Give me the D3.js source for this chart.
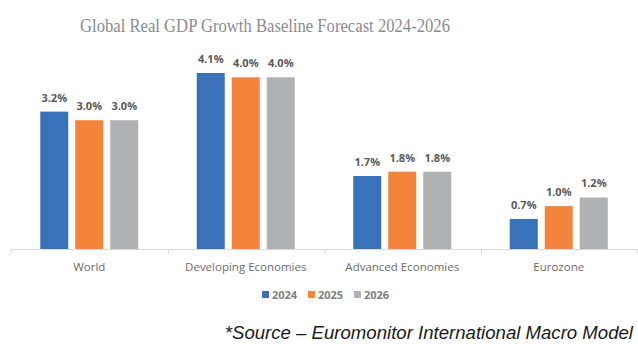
<!DOCTYPE html>
<html lang="en">
<head>
  <meta charset="UTF-8" />
  <title>Global Real GDP Growth Baseline Forecast 2024-2026</title>
  <script src="https://d3js.org/d3.v7.min.js"></script>
  <style>
    body { margin: 0; background: #fff; overflow: hidden; }
    .val { font-family: "Open Sans", Arial, sans-serif; font-size: 11px; font-weight: bold; fill: #595959; }
    .cat { font-family: "Open Sans", Arial, sans-serif; font-size: 11.5px; fill: #6b6b6b; }
  </style>
</head>
<body>
  <script>
    // Chart data
    const categories = ["World", "Developing Economies", "Advanced Economies", "Eurozone"];
    const years = ["2024", "2025", "2026"];
    const values2024 = [3.2, 4.1, 1.7, 0.7];
    const values2025 = [3.0, 4.0, 1.8, 1.0];
    const values2026 = [3.0, 4.0, 1.8, 1.2];
    const colors = ["#3A72BA", "#F4843C", "#B0B1B3"];

    const series = [values2024, values2025, values2026];
    const width = 638, height = 344;
    const plot = { left: 11, right: 637, top: 70, bottom: 249 };

    const svg = d3.select("body").append("svg")
      .attr("width", width)
      .attr("height", height);

    // Title (narrow serif face, so squeeze it to the measured width)
    svg.append("text")
      .attr("x", 80)
      .attr("y", 32)
      .attr("textLength", 370)
      .attr("lengthAdjust", "spacingAndGlyphs")
      .style("font-family", "'Liberation Serif', 'Times New Roman', serif")
      .style("font-size", "19.5px")
      .style("fill", "#8c8c8c")
      .text("Global Real GDP Growth Baseline Forecast 2024-2026");

    const x0 = d3.scaleBand()
      .domain(categories)
      .range([plot.left, plot.right]);

    const x1 = d3.scaleBand()
      .domain(years)
      .range([x0.bandwidth() / 2 - 49, x0.bandwidth() / 2 + 49])
      .paddingInner(0.2);

    // ~42.9 px per percentage point
    const y = d3.scaleLinear()
      .domain([0, 4.1])
      .range([plot.bottom, plot.bottom - 176]);

    // Bars
    const groups = svg.selectAll(".grp")
      .data(categories)
      .enter().append("g")
      .attr("transform", d => `translate(${x0(d)},0)`);

    groups.each(function(cat, i) {
      const g = d3.select(this);
      years.forEach((yr, j) => {
        const v = series[j][i];
        g.append("rect")
          .attr("x", x1(yr))
          .attr("y", y(v))
          .attr("width", x1.bandwidth())
          .attr("height", y(0) - y(v))
          .attr("fill", colors[j]);
        g.append("text")
          .attr("class", "val")
          .attr("x", x1(yr) + x1.bandwidth() / 2)
          .attr("y", y(v) - 10)
          .attr("text-anchor", "middle")
          .text(v.toFixed(1) + "%");
      });
    });

    // Category axis
    svg.append("line")
      .attr("x1", plot.left).attr("x2", plot.right)
      .attr("y1", plot.bottom + 0.5).attr("y2", plot.bottom + 0.5)
      .attr("stroke", "#d9d9d9").attr("stroke-width", 1);

    const bounds = categories.map(c => x0(c)).concat([plot.right]);
    svg.selectAll(".tick")
      .data(bounds)
      .enter().append("line")
      .attr("x1", d => Math.round(d) + 0.5).attr("x2", d => Math.round(d) + 0.5)
      .attr("y1", plot.bottom).attr("y2", plot.bottom + 5)
      .attr("stroke", "#d9d9d9");

    svg.selectAll(".cat")
      .data(categories)
      .enter().append("text")
      .attr("class", "cat")
      .attr("x", d => x0(d) + x0.bandwidth() / 2)
      .attr("y", 271)
      .attr("text-anchor", "middle")
      .text(d => d);

    // Legend
    const legendX = [262, 308, 354];
    years.forEach((yr, j) => {
      svg.append("rect")
        .attr("x", legendX[j]).attr("y", 291)
        .attr("width", 7).attr("height", 7)
        .attr("fill", colors[j]);
      svg.append("text")
        .attr("class", "val")
        .attr("x", legendX[j] + 10)
        .attr("y", 299)
        .style("fill", "#7f7f7f")
        .text(yr);
    });

    // Source note
    svg.append("text")
      .attr("x", 633)
      .attr("y", 339)
      .attr("text-anchor", "end")
      .style("font-family", "'Liberation Sans', Arial, sans-serif")
      .style("font-style", "italic")
      .style("font-size", "18.6px")
      .style("fill", "#1a1a1a")
      .text("*Source \u2013 Euromonitor International Macro Model");
  </script>
</body>
</html>
